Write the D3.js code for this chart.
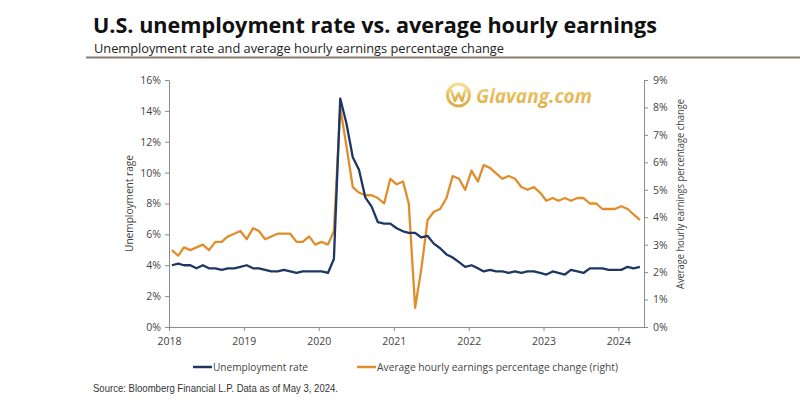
<!DOCTYPE html>
<html>
<head>
<meta charset="utf-8">
<script src="https://cdn.jsdelivr.net/npm/d3@7"></script>
<style>
  html, body { margin: 0; padding: 0; background: #fff; }
  svg { display: block; font-family: "Open Sans", "DejaVu Sans", sans-serif; }
</style>
</head>
<body>
<svg id="chart" width="800" height="400"></svg>
<script>
// ---- Data (monthly, Jan 2018 – Apr 2024) ----
const startMonth = "2018-01";
const unemploymentRate = [
  4.0, 4.1, 4.0, 4.0, 3.8, 4.0, 3.8, 3.8, 3.7, 3.8, 3.8, 3.9,
  4.0, 3.8, 3.8, 3.7, 3.6, 3.6, 3.7, 3.6, 3.5, 3.6, 3.6, 3.6,
  3.6, 3.5, 4.4, 14.8, 13.2, 11.0, 10.2, 8.4, 7.8, 6.8, 6.7, 6.7,
  6.4, 6.2, 6.1, 6.1, 5.8, 5.9, 5.4, 5.1, 4.7, 4.5, 4.2, 3.9,
  4.0, 3.8, 3.6, 3.7, 3.6, 3.6, 3.5, 3.6, 3.5, 3.6, 3.6, 3.5,
  3.4, 3.6, 3.5, 3.4, 3.7, 3.6, 3.5, 3.8, 3.8, 3.8, 3.7, 3.7,
  3.7, 3.9, 3.8, 3.9
];
const earningsChange = [
  2.8, 2.6, 2.9, 2.8, 2.9, 3.0, 2.8, 3.1, 3.1, 3.3, 3.4, 3.5,
  3.2, 3.6, 3.5, 3.2, 3.3, 3.4, 3.4, 3.4, 3.1, 3.1, 3.3, 3.0,
  3.1, 3.0, 3.5, 8.0, 6.6, 5.1, 4.9, 4.8, 4.8, 4.7, 4.5, 5.4,
  5.2, 5.3, 4.5, 0.7, 2.1, 3.9, 4.2, 4.3, 4.7, 5.5, 5.4, 5.0,
  5.7, 5.3, 5.9, 5.8, 5.6, 5.4, 5.5, 5.4, 5.1, 5.0, 5.1, 4.9,
  4.6, 4.7, 4.6, 4.7, 4.6, 4.7, 4.7, 4.5, 4.5, 4.3, 4.3, 4.3,
  4.4, 4.3, 4.1, 3.9
];
const leftTicks = [0, 2, 4, 6, 8, 10, 12, 14, 16];
const rightTicks = [0, 1, 2, 3, 4, 5, 6, 7, 8, 9];
const seriesNames = ["Unemployment rate", "Average hourly earnings percentage change (right)"];
const seriesColors = ["#1c3764", "#e08d2c"];
const titleText = "U.S. unemployment rate vs. average hourly earnings";
const subtitleText = "Unemployment rate and average hourly earnings percentage change";
const sourceText = "Source: Bloomberg Financial L.P. Data as of May 3, 2024.";
const leftAxisTitle = "Unemployment rage";
const rightAxisTitle = "Average hourly earnings percentage change";

// ---- Build rows ----
const parseMonth = d3.timeParse("%Y-%m");
const base = d3.timeDay.offset(parseMonth(startMonth), 14);
const rows = unemploymentRate.map((u, i) => ({
  date: d3.timeMonth.offset(base, i),
  u: u,
  e: earningsChange[i]
}));

const svg = d3.select("#chart");
const W = 800, H = 400;
const plot = { left: 169, right: 644, top: 80, bottom: 327 };

const x = d3.scaleTime()
  .domain([parseMonth("2018-01"), new Date(2024, 4, 5)])
  .range([plot.left, plot.right]);
const yL = d3.scaleLinear().domain([0, 16]).range([plot.bottom, plot.top]);
const yR = d3.scaleLinear().domain([0, 9]).range([plot.bottom, plot.top]);

const textColor = "#444";
const axisColor = "#8c8c8c";

// ---- Title block ----
svg.append("text")
  .attr("x", 93).attr("y", 32.5)
  .attr("font-size", 22).attr("font-weight", 700)
  .attr("fill", "#111")
  .attr("textLength", 564).attr("lengthAdjust", "spacingAndGlyphs")
  .text(titleText);

svg.append("text")
  .attr("x", 94).attr("y", 52.5)
  .attr("font-size", 12.5)
  .attr("fill", "#222")
  .attr("textLength", 410).attr("lengthAdjust", "spacingAndGlyphs")
  .text(subtitleText);

svg.append("line")
  .attr("x1", 86).attr("x2", 800)
  .attr("y1", 57.5).attr("y2", 57.5)
  .attr("stroke", "#8a7d6c").attr("stroke-width", 2);

// ---- Watermark ----
const defs = svg.append("defs");
const grad = defs.append("linearGradient").attr("id", "gold")
  .attr("x1", "0").attr("y1", "0").attr("x2", "0").attr("y2", "1");
grad.append("stop").attr("offset", "0%").attr("stop-color", "#f5dc86");
grad.append("stop").attr("offset", "55%").attr("stop-color", "#e4b54a");
grad.append("stop").attr("offset", "100%").attr("stop-color", "#d9a53a");

const wm = svg.append("g").attr("opacity", 0.9);
wm.append("circle").attr("cx", 458.5).attr("cy", 95).attr("r", 11)
  .attr("fill", "none").attr("stroke", "url(#gold)").attr("stroke-width", 3);
wm.append("path")
  .attr("d", "M451,90 L455,101 L458.5,93 L462,101 L466,88")
  .attr("fill", "none").attr("stroke", "url(#gold)").attr("stroke-width", 2.6)
  .attr("stroke-linejoin", "round").attr("stroke-linecap", "round");
wm.append("text")
  .attr("x", 476).attr("y", 102.5)
  .attr("font-size", 20).attr("font-weight", 700).attr("font-style", "italic")
  .attr("fill", "url(#gold)")
  .attr("textLength", 116).attr("lengthAdjust", "spacingAndGlyphs")
  .text("Glavang.com");

// ---- Axes ----
const gx = svg.append("g")
  .attr("transform", `translate(0,${plot.bottom})`)
  .call(d3.axisBottom(x).ticks(d3.timeYear.every(1)).tickFormat(d3.timeFormat("%Y")).tickSize(4).tickSizeOuter(0));
const gl = svg.append("g")
  .attr("transform", `translate(${plot.left},0)`)
  .call(d3.axisLeft(yL).tickValues(leftTicks).tickFormat(d => d + "%").tickSize(4).tickSizeOuter(0));
const gr = svg.append("g")
  .attr("transform", `translate(${plot.right},0)`)
  .call(d3.axisRight(yR).tickValues(rightTicks).tickFormat(d => d + "%").tickSize(4).tickSizeOuter(0));

[gx, gl, gr].forEach(g => {
  g.select(".domain").attr("stroke", axisColor).attr("stroke-width", 1);
  g.selectAll(".tick line").attr("stroke", axisColor);
  g.selectAll(".tick text")
    .attr("fill", textColor)
    .attr("font-size", 10.5)
    .attr("font-family", "\"Open Sans\", sans-serif");
});
gx.selectAll(".tick text").attr("dy", "1.05em");
gl.selectAll(".tick text").attr("x", -8);
gr.selectAll(".tick text").attr("x", 9);

// Axis titles
svg.append("text")
  .attr("transform", `translate(133,${(plot.top + plot.bottom) / 2 + 0}) rotate(-90)`)
  .attr("text-anchor", "middle")
  .attr("font-size", 11).attr("fill", textColor)
  .attr("textLength", 97).attr("lengthAdjust", "spacingAndGlyphs")
  .text(leftAxisTitle);

svg.append("text")
  .attr("transform", `translate(684,${194}) rotate(-90)`)
  .attr("text-anchor", "middle")
  .attr("font-size", 11).attr("fill", textColor)
  .attr("textLength", 190).attr("lengthAdjust", "spacingAndGlyphs")
  .text(rightAxisTitle);

// ---- Lines ----
const lineE = d3.line().x(d => x(d.date)).y(d => yR(d.e));
const lineU = d3.line().x(d => x(d.date)).y(d => yL(d.u));

svg.append("path").datum(rows)
  .attr("d", lineE)
  .attr("fill", "none").attr("stroke", seriesColors[1])
  .attr("stroke-width", 2.3).attr("stroke-linejoin", "round");

svg.append("path").datum(rows)
  .attr("d", lineU)
  .attr("fill", "none").attr("stroke", seriesColors[0])
  .attr("stroke-width", 2.3).attr("stroke-linejoin", "round");

// ---- Legend ----
const legendItems = [
  { name: seriesNames[0], color: seriesColors[0], x: 193, len: 95 },
  { name: seriesNames[1], color: seriesColors[1], x: 357, len: 241 }
];
const lg = svg.append("g");
legendItems.forEach(item => {
  lg.append("line")
    .attr("x1", item.x).attr("x2", item.x + 19)
    .attr("y1", 367).attr("y2", 367)
    .attr("stroke", item.color).attr("stroke-width", 2.5);
  lg.append("text")
    .attr("x", item.x + 20).attr("y", 371)
    .attr("font-size", 11).attr("fill", textColor)
    .attr("textLength", item.len).attr("lengthAdjust", "spacingAndGlyphs")
    .text(item.name);
});

// ---- Source ----
svg.append("text")
  .attr("x", 93).attr("y", 392)
  .attr("font-size", 10.5).attr("fill", "#333")
  .attr("font-family", "\"Liberation Sans Narrow\", \"Liberation Sans\", Arial, sans-serif")
  .attr("textLength", 245).attr("lengthAdjust", "spacingAndGlyphs")
  .text(sourceText);
</script>
</body>
</html>
